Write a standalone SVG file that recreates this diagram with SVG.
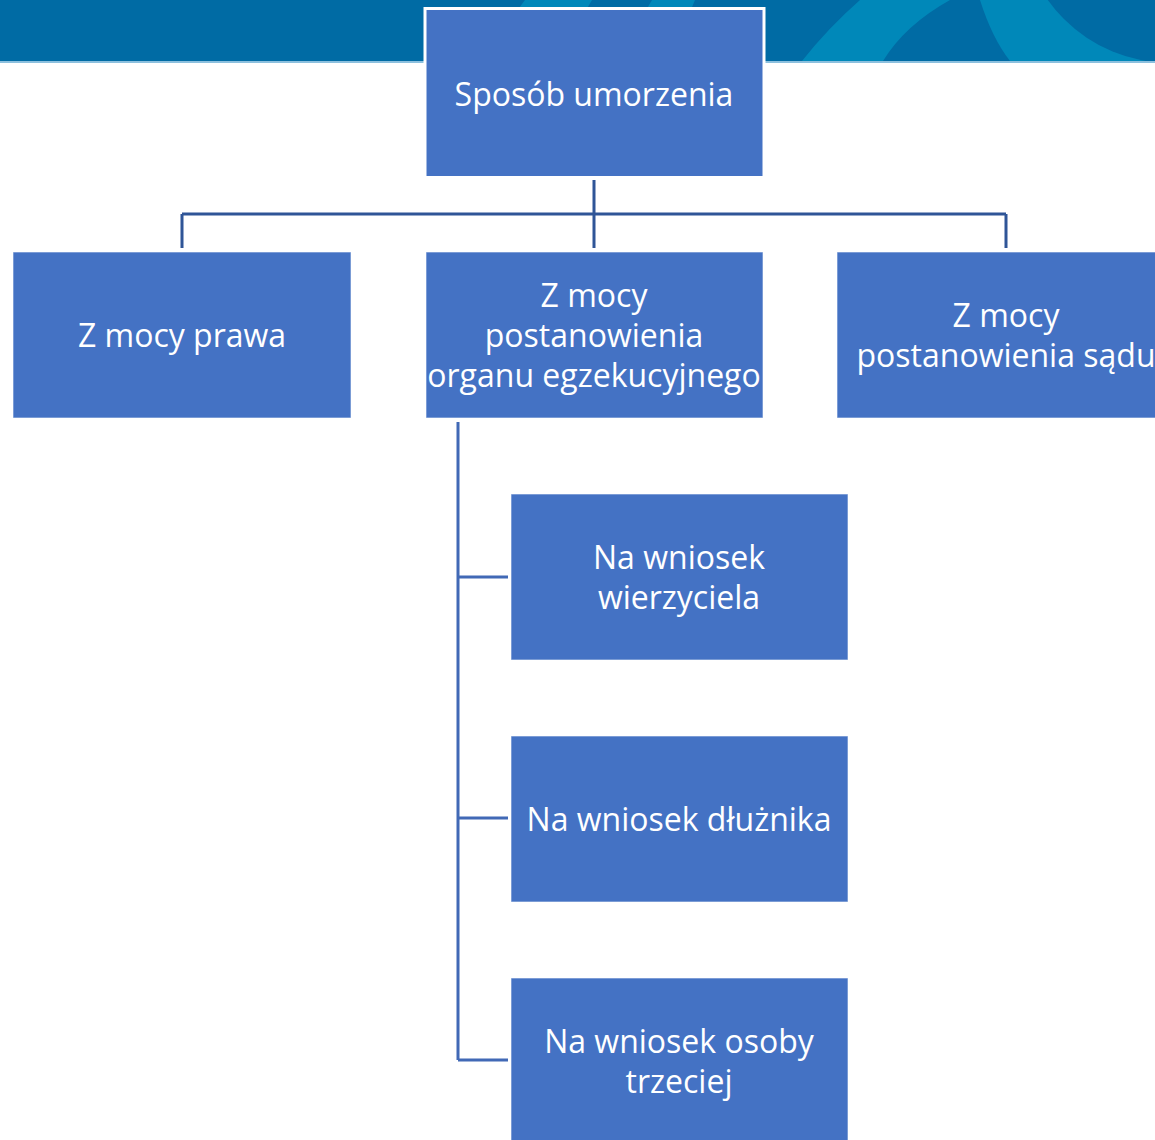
<svg xmlns="http://www.w3.org/2000/svg" width="1155" height="1140" viewBox="0 0 1155 1140">
<defs>
<clipPath id="bannerClip"><rect x="0" y="0" width="1155" height="61"/></clipPath>
<style>
.box{fill:#4472C4;stroke:#ffffff;stroke-width:1;stroke-opacity:0.6}
.lbl{font-family:"Open Sans","Liberation Sans",sans-serif;font-size:32px;fill:#ffffff;text-anchor:middle}
.conTop{fill:none;stroke:#2F5597;stroke-width:3}
.conSub{fill:none;stroke:#4169B6;stroke-width:3}
</style>
</defs>
<g id="banner">
<rect x="0" y="0" width="1155" height="61" fill="#006BA4"/>
<g clip-path="url(#bannerClip)" fill="#0088B9">
<path d="M525,0 L592,0 L585,12 L516,12 Z"/>
<path d="M652,0 L695,0 L690,12 L645,12 Z"/>
<path d="M802,61 L883,61 Q905,25 950,0 L860,0 Q828,28 802,61 Z"/>
<path d="M980,0 Q992,38 1010,61 L1155,61 L1155,0 Z"/>
<circle cx="1170" cy="-87" r="150" fill="#006BA4"/>
</g>
<rect x="0" y="61" width="1155" height="2" fill="#8CC0DE"/>
</g>
<g id="connectors">
<path class="conTop" d="M594,180 V248 M182,214 H1006 M182,214 V248 M1006,214 V248"/>
<path class="conSub" d="M458,422 V1060 M458,577 H508 M458,818 H508 M458,1060 H508"/>
</g>
<g id="n-root">
<rect class="box" x="425" y="8.5" width="339" height="169" style="stroke-width:3;stroke-opacity:1"/>
<text class="lbl" x="594" y="106">Sposób umorzenia</text>
</g>
<g id="n-prawa">
<rect class="box" x="13" y="252" width="338" height="166"/>
<text class="lbl" x="182" y="347">Z mocy prawa</text>
</g>
<g id="n-organ">
<rect class="box" x="426" y="252" width="337" height="166"/>
<text class="lbl" x="594" y="307">Z mocy</text>
<text class="lbl" x="594" y="347">postanowienia</text>
<text class="lbl" x="594" y="387">organu egzekucyjnego</text>
</g>
<g id="n-sad">
<rect class="box" x="837" y="252" width="338" height="166"/>
<text class="lbl" x="1006" y="327">Z mocy</text>
<text class="lbl" x="1006" y="367">postanowienia sądu</text>
</g>
<g id="n-wierzyciel">
<rect class="box" x="511" y="494" width="337" height="166"/>
<text class="lbl" x="679" y="569">Na wniosek</text>
<text class="lbl" x="679" y="609">wierzyciela</text>
</g>
<g id="n-dluznik">
<rect class="box" x="511" y="736" width="337" height="166"/>
<text class="lbl" x="679" y="831">Na wniosek dłużnika</text>
</g>
<g id="n-osoba">
<rect class="box" x="511" y="978" width="337" height="166"/>
<text class="lbl" x="679" y="1053">Na wniosek osoby</text>
<text class="lbl" x="679" y="1093">trzeciej</text>
</g>
</svg>
